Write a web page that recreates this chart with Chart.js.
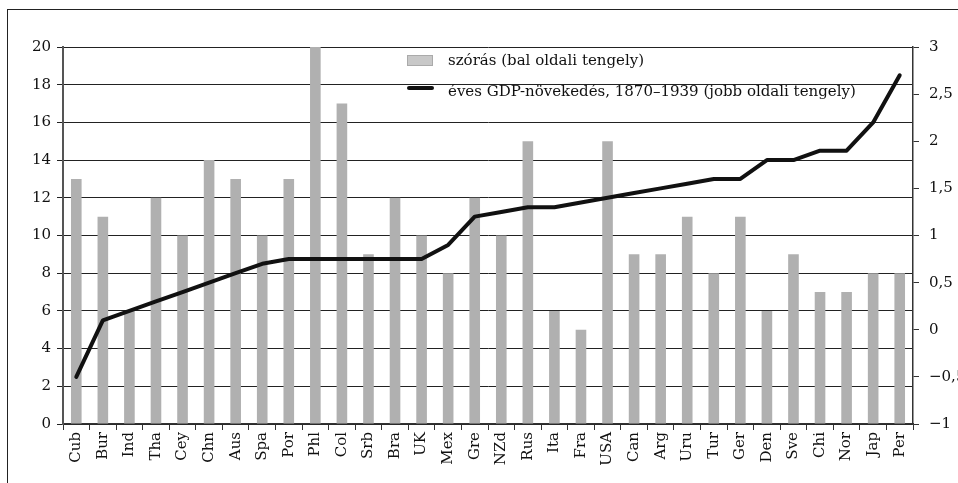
<!DOCTYPE html>
<html>
<head>
<meta charset="utf-8">
<script src="https://cdn.jsdelivr.net/npm/chart.js@4/dist/chart.umd.min.js"></script>
<style>
  html, body { margin: 0; padding: 0; background: #fff; overflow: hidden; }
  #frame { position: absolute; left: 7px; top: 9px; width: 1200px; height: 800px;
           border-left: 1px solid #222; border-top: 1px solid #222; }
  #wrap { position: absolute; left: 0; top: 0; width: 958px; height: 483px; }
</style>
</head>
<body>
<div id="frame"></div>
<div id="wrap"><canvas id="chart"></canvas></div>
<script>
// country codes, sorted by growth
var countries = ['Cub', 'Bur', 'Ind', 'Tha', 'Cey', 'Chn', 'Aus', 'Spa', 'Por', 'Phl', 'Col', 'Srb', 'Bra', 'UK', 'Mex', 'Gre',
                 'NZd', 'Rus', 'Ita', 'Fra', 'USA', 'Can', 'Arg', 'Uru', 'Tur', 'Ger', 'Den', 'Sve', 'Chi', 'Nor', 'Jap', 'Per'];

// standard deviation (left axis)
var szoras = [13, 11, 6, 12, 10, 14, 13, 10, 13, 20, 17, 9, 12, 10, 8, 12,
              10, 15, 6, 5, 15, 9, 9, 11, 8, 11, 6, 9, 7, 7, 8, 8];

// yearly GDP growth 1870-1939 (right axis)
var gdpNovekedes = [-0.5, 0.1, 0.2, 0.3, 0.4, 0.5, 0.6, 0.7, 0.75, 0.75, 0.75, 0.75, 0.75, 0.75, 0.9, 1.2,
                    1.25, 1.3, 1.3, 1.35, 1.4, 1.45, 1.5, 1.55, 1.6, 1.6, 1.8, 1.8, 1.9, 1.9, 2.2, 2.7];

var seriesLabels = ['szórás (bal oldali tengely)', 'éves GDP-növekedés, 1870–1939 (jobb oldali tengely)'];

var FONT = { family: '"DejaVu Serif", serif', size: 15 };

// draws the legend inside the plot, top right
var innerLegend = {
    id: 'innerLegend',
    afterDraw: function(chart) {
        var ctx = chart.ctx;
        ctx.save();
        ctx.font = FONT.size + 'px ' + FONT.family;
        ctx.textBaseline = 'middle';
        // bar swatch
        ctx.fillStyle = '#c8c8c8';
        ctx.fillRect(407, 55, 26, 11);
        ctx.strokeStyle = '#aaa';
        ctx.lineWidth = 1;
        ctx.strokeRect(407.5, 55.5, 25, 10);
        ctx.fillStyle = '#111';
        ctx.fillText(chart.data.datasets[1].label, 448, 61);
        // line swatch
        ctx.strokeStyle = '#111';
        ctx.lineWidth = 4;
        ctx.lineCap = 'round';
        ctx.beginPath();
        ctx.moveTo(409, 88);
        ctx.lineTo(432, 88);
        ctx.stroke();
        ctx.fillText(chart.data.datasets[0].label, 448, 92);
        ctx.restore();
    }
};

var ctx = document.getElementById('chart');
var chart = new Chart(ctx, {
    type: 'bar',
    data: {
        labels: countries,
        datasets: [{
            type: 'line',
            label: seriesLabels[1],
            data: gdpNovekedes,
            yAxisID: 'y1',
            borderColor: '#111',
            borderWidth: 4,
            pointRadius: 0,
            tension: 0,
            borderJoinStyle: 'round',
            borderCapStyle: 'round',
            order: 0
        }, {
            label: seriesLabels[0],
            data: szoras,
            yAxisID: 'y',
            backgroundColor: '#b0b0b0',
            barPercentage: 0.4,
            categoryPercentage: 1,
            order: 1
        }]
    },
    options: {
        responsive: true,
        maintainAspectRatio: false,
        animation: false,
        layout: { padding: { top: 47, left: 0, right: 0, bottom: 0 } },
        plugins: {
            legend: { display: false },
            tooltip: { enabled: false }
        },
        scales: {
            x: {
                grid: { display: true, drawOnChartArea: false, drawTicks: true, tickLength: 6, offset: true, color: '#333' },
                border: { display: true, color: '#333', width: 1.5 },
                ticks: { color: '#111', font: FONT, minRotation: 90, maxRotation: 90, autoSkip: false, padding: 2 },
                afterFit: function(s) { s.height = 59; }
            },
            y: {
                position: 'left',
                min: 0, max: 20,
                ticks: { stepSize: 2, color: '#111', font: FONT, padding: 6 },
                grid: { color: '#222', lineWidth: 1, tickLength: 6 },
                border: { display: true, color: '#555', width: 2 },
                afterFit: function(s) { s.width = 63; }
            },
            y1: {
                position: 'right',
                min: -1, max: 3,
                ticks: {
                    stepSize: 0.5, color: '#111', font: FONT, padding: 10,
                    callback: function(v) { return String(v).replace('.', ',').replace('-', '−'); }
                },
                grid: { drawOnChartArea: false, tickLength: 6, color: '#333' },
                border: { display: true, color: '#333', width: 1.5 },
                afterFit: function(s) { s.width = 45; }
            }
        }
    },
    plugins: [innerLegend]
});
</script>
</body>
</html>
